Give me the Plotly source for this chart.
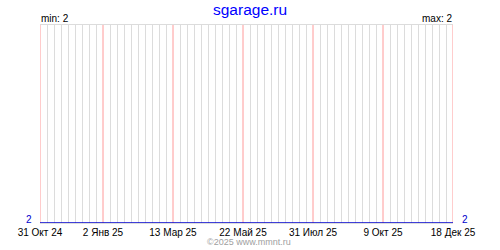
import plotly.graph_objects as go
import pandas as pd

title_text = "sgarage.ru"
footer_text = "©2025 www.mmnt.ru"

series_dates = ["2024-10-31", "2025-01-02", "2025-03-13", "2025-05-22",
                "2025-07-31", "2025-10-09", "2025-12-18"]
series_values = [2, 2, 2, 2, 2, 2, 2]

tick_dates = ["2024-10-31", "2025-01-02", "2025-03-13", "2025-05-22",
              "2025-07-31", "2025-10-09", "2025-12-18"]
tick_labels = ["31 Окт 24", "2 Янв 25", "13 Мар 25", "22 Май 25",
               "31 Июл 25", "9 Окт 25", "18 Дек 25"]

vmin = min(series_values)
vmax = max(series_values)

FONT = "Liberation Sans"

# weekly grid positions (excluding those coinciding with labelled ticks)
weeks = pd.date_range(tick_dates[0], tick_dates[-1], freq="7D")
week_vals = [d.strftime("%Y-%m-%d") for d in weeks
             if d.strftime("%Y-%m-%d") not in tick_dates]

fig = go.Figure()
fig.add_trace(go.Scatter(
    x=series_dates, y=series_values, mode="lines",
    line=dict(color="#0000cc", width=1.5), cliponaxis=False,
    hoverinfo="skip", showlegend=False,
))

# pink lines at the labelled dates
shapes = [dict(type="line", xref="x", yref="paper", x0=d, x1=d, y0=0, y1=1,
               line=dict(color="#ff9a9a", width=1), layer="between")
          for d in tick_dates]

fig.update_layout(
    width=500, height=250,
    margin=dict(l=40, r=47, t=25, b=25),
    paper_bgcolor="white", plot_bgcolor="white",
    font=dict(family=FONT, size=10, color="black"),
    shapes=shapes,
    xaxis=dict(
        type="date", range=[tick_dates[0], tick_dates[-1]],
        tickmode="array", tickvals=tick_dates, ticktext=tick_labels,
        ticks="", ticklabelstandoff=0,
        tickfont=dict(family=FONT, size=10, color="black"),
        showgrid=False,
        minor=dict(tickmode="array", tickvals=week_vals, showgrid=True,
                   gridcolor="#dcdcdc", gridwidth=1, ticks=""),
        showline=True, mirror=True, linecolor="#dcdcdc", linewidth=1,
        layer="below traces", zeroline=False, fixedrange=True,
    ),
    yaxis=dict(
        range=[vmin, vmin + 1],
        showticklabels=False, showgrid=False, zeroline=False,
        showline=False, fixedrange=True,
    ),
    annotations=[
        dict(text=title_text, x=0.5, xref="paper", y=1, yref="paper",
             xanchor="center", yanchor="bottom", yshift=5, xshift=3, showarrow=False,
             font=dict(family=FONT, size=15.5, color="#0000ff")),
        dict(text=f"min: {vmin}", x=0, xref="paper", y=1, yref="paper",
             xanchor="left", yanchor="bottom", showarrow=False, xshift=-1, yshift=-1,
             font=dict(family=FONT, size=10, color="black")),
        dict(text=f"max: {vmax}", x=1, xref="paper", y=1, yref="paper",
             xanchor="right", yanchor="bottom", showarrow=False, xshift=1, yshift=-1,
             font=dict(family=FONT, size=10, color="black")),
        dict(text=str(series_values[0]), x=0, xref="paper", y=series_values[0], yref="y",
             xanchor="right", yanchor="bottom", showarrow=False, xshift=-6, yshift=-4,
             font=dict(family=FONT, size=10, color="#0000cc")),
        dict(text=str(series_values[-1]), x=1, xref="paper", y=series_values[-1], yref="y",
             xanchor="left", yanchor="bottom", showarrow=False, xshift=7, yshift=-4,
             font=dict(family=FONT, size=10, color="#0000cc")),
        dict(text=footer_text, x=0.5, xref="paper", y=0, yref="paper",
             xanchor="center", yanchor="top", yshift=-12, xshift=2, showarrow=False,
             font=dict(family=FONT, size=9, color="#a0a0a0")),
    ],
)

fig.write_html("out.html", config={"displayModeBar": False})
